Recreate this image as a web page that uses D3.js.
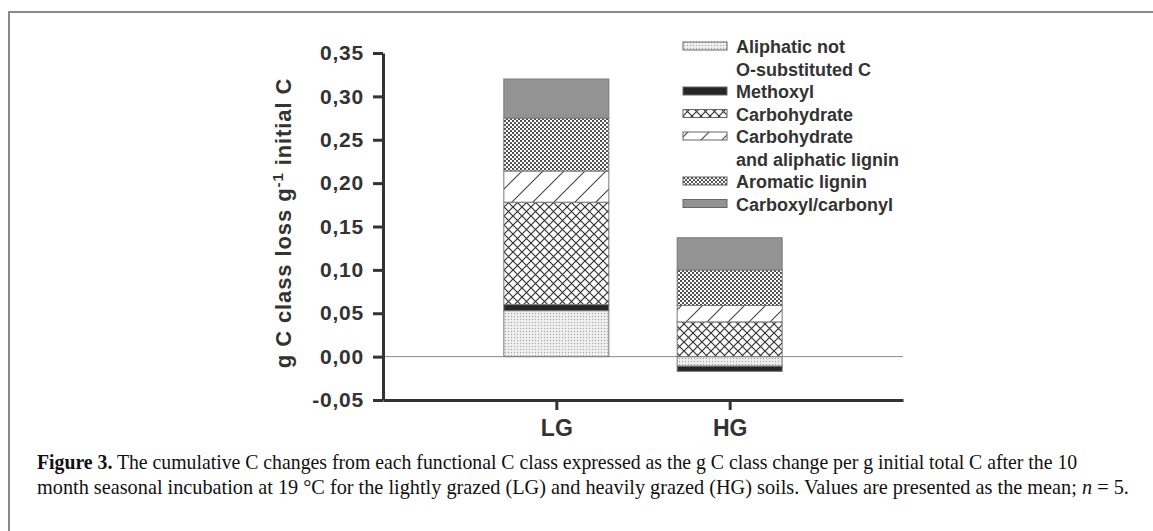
<!DOCTYPE html>
<html>
<head>
<meta charset="utf-8">
<script src="https://cdn.jsdelivr.net/npm/d3@7"></script>
<style>
  body { margin: 0; background: #fff; }
  svg { display: block; }
  .axis text { font-family: "Liberation Sans", Arial, sans-serif; font-weight: bold; fill: #333; }
  .axis path, .axis line { stroke: #333; stroke-width: 3; }
</style>
</head>
<body>
<svg id="chart" width="1153" height="531"></svg>
<script>
// groups on the x axis
const groups = ["LG", "HG"];
// functional C classes, bottom to top of the stack
const classes = ["Aliphatic not O-substituted C", "Methoxyl", "Carbohydrate",
                 "Carbohydrate and aliphatic lignin", "Aromatic lignin", "Carboxyl/carbonyl"];
const lgValues = [0.053, 0.007, 0.118, 0.036, 0.061, 0.045];
const hgValues = [-0.011, -0.006, 0.040, 0.019, 0.041, 0.037];
const yTicks = [-0.05, 0, 0.05, 0.10, 0.15, 0.20, 0.25, 0.30, 0.35];
const legendLines = [["Aliphatic not", "O-substituted C"], ["Methoxyl"], ["Carbohydrate"],
                     ["Carbohydrate", "and aliphatic lignin"], ["Aromatic lignin"], ["Carboxyl/carbonyl"]];
const fills = ["url(#stipple)", "#262626", "url(#cross)", "url(#diag)", "url(#dots)", "#939393"];

const svg = d3.select('#chart');

// frame
svg.append('path').attr('d', 'M9,531V12H1153')
  .style('fill', 'none').style('stroke', '#8a8a8a').style('stroke-width', 2);

// patterns
const defs = svg.append('defs');
const p1 = defs.append('pattern').attr('id', 'stipple').attr('patternUnits', 'userSpaceOnUse')
  .attr('width', 3).attr('height', 3);
p1.append('rect').attr('width', 3).attr('height', 3).style('fill', '#f0f0f0');
p1.append('circle').attr('cx', 1.5).attr('cy', 1.5).attr('r', 0.7).style('fill', '#a8a8a8');

const p2 = defs.append('pattern').attr('id', 'cross').attr('patternUnits', 'userSpaceOnUse')
  .attr('width', 9).attr('height', 9);
p2.append('rect').attr('width', 9).attr('height', 9).style('fill', '#fff');
p2.append('path').attr('d', 'M0,0L9,9M9,0L0,9').style('stroke', '#333').style('stroke-width', 1.2);

const p3 = defs.append('pattern').attr('id', 'diag').attr('patternUnits', 'userSpaceOnUse')
  .attr('width', 21).attr('height', 21);
p3.append('rect').attr('width', 21).attr('height', 21).style('fill', '#fff');
p3.append('path').attr('d', 'M0,21L21,0M-3,3L3,-3M18,24L24,18').style('stroke', '#444').style('stroke-width', 1.1);

const p4 = defs.append('pattern').attr('id', 'dots').attr('patternUnits', 'userSpaceOnUse')
  .attr('width', 4).attr('height', 4);
p4.append('rect').attr('width', 4).attr('height', 4).style('fill', '#fff');
p4.append('circle').attr('cx', 1).attr('cy', 1).attr('r', 1.1).style('fill', '#3a3a3a');
p4.append('circle').attr('cx', 3).attr('cy', 3).attr('r', 1.1).style('fill', '#3a3a3a');

// scales
const x = d3.scalePoint().domain(groups).range([383, 903]).padding(1);
const y = d3.scaleLinear().domain([-0.05, 0.35]).range([400, 53]);
const barWidth = 105;

const loc = d3.formatLocale({decimal: ",", thousands: ".", grouping: [3], currency: ["", ""], minus: "-"});
const fmt = loc.format(".2f");

// stacked data
const table = groups.map((g, gi) => {
  const row = {group: g};
  const vals = gi === 0 ? lgValues : hgValues;
  classes.forEach((c, i) => row[c] = vals[i]);
  return row;
});
const series = d3.stack().keys(classes).offset(d3.stackOffsetDiverging)(table);

// zero line
svg.append('line')
  .attr('x1', x.range()[0]).attr('x2', x.range()[1])
  .attr('y1', y(0)).attr('y2', y(0))
  .style('stroke', '#888').style('stroke-width', 1);

series.forEach((s, i) => {
  svg.append('g').selectAll('rect')
    .data(s)
    .enter()
    .append('rect')
    .attr('x', d => x(d.data.group) - barWidth / 2)
    .attr('width', barWidth)
    .attr('y', d => y(Math.max(d[0], d[1])))
    .attr('height', d => Math.abs(y(d[0]) - y(d[1])))
    .style('fill', fills[i])
    .style('stroke', '#777')
    .style('stroke-width', 1);
});

// axes
const yAxis = svg.append('g').attr('class', 'axis')
  .attr('transform', `translate(${x.range()[0]},0)`)
  .call(d3.axisLeft(y).tickValues(yTicks).tickSize(10).tickSizeOuter(0).tickPadding(9).tickFormat(fmt));
yAxis.selectAll('text').style('font-size', '21px').style('letter-spacing', '0.8px');

const xAxis = svg.append('g').attr('class', 'axis')
  .attr('transform', `translate(0,${y(-0.05)})`)
  .call(d3.axisBottom(x).tickSize(10).tickSizeOuter(0).tickPadding(10));
xAxis.selectAll('text').style('font-size', '23px');

// y label
const yl = svg.append('text')
  .attr('transform', 'translate(291,223) rotate(-90)')
  .style('text-anchor', 'middle')
  .style('font-family', '"Liberation Sans", Arial, sans-serif')
  .style('font-weight', 'bold').style('font-size', '22px')
  .style('letter-spacing', '0.9px')
  .style('fill', '#333');
yl.append('tspan').text('g C class loss g');
yl.append('tspan').attr('dy', -8).style('font-size', '15px').text('-1');
yl.append('tspan').attr('dy', 8).text(' initial C');

// legend
const legend = svg.append('g').attr('transform', 'translate(683,53)');
let row = 0;
legendLines.forEach((lines, i) => {
  legend.append('rect')
    .attr('x', 0).attr('y', row * 22.5 - 11)
    .attr('width', 44).attr('height', 8)
    .style('fill', fills[i]).style('stroke', '#666').style('stroke-width', 1);
  lines.forEach(t => {
    legend.append('text')
      .attr('x', 53).attr('y', row * 22.5)
      .style('font-family', '"Liberation Sans", Arial, sans-serif')
      .style('font-weight', 'bold').style('font-size', '18px')
      .style('fill', '#333')
      .text(t);
    row++;
  });
});

// caption, squeezed horizontally to the reference line widths
function captionLine(yPos, width, parts) {
  const g = svg.append('g');
  const t = g.append('text')
    .attr('x', 0).attr('y', 0)
    .style('font-family', '"Liberation Serif", serif').style('font-size', '21px').style('fill', '#111');
  parts.forEach(p => {
    const s = t.append('tspan').text(p.text);
    if (p.bold) s.style('font-weight', 'bold');
    if (p.italic) s.style('font-style', 'italic');
  });
  const natural = t.node().getComputedTextLength();
  g.attr('transform', `translate(37,${yPos}) scale(${width / natural},1)`);
}
captionLine(469, 1041, [
  {text: 'Figure 3.', bold: true},
  {text: ' The cumulative C changes from each functional C class expressed as the g C class change per g initial total C after the 10'}
]);
captionLine(494, 1093, [
  {text: 'month seasonal incubation at 19 \u00B0C for the lightly grazed (LG) and heavily grazed (HG) soils. Values are presented as the mean; '},
  {text: 'n', italic: true},
  {text: ' = 5.'}
]);
</script>
</body>
</html>
